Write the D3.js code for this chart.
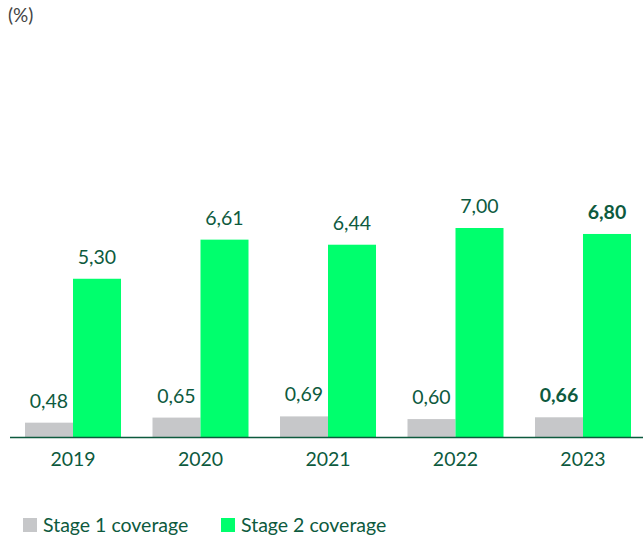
<!DOCTYPE html>
<html><head><meta charset="utf-8">
<script src="https://cdn.jsdelivr.net/npm/d3@7"></script>
<style>body{margin:0;background:#fff;}svg{display:block;font-family:Lato,sans-serif;}</style>
</head><body>
<svg id="c" width="643" height="538"></svg>
<script>
const years = ["2019","2020","2021","2022","2023"];
const stage1 = [0.48,0.65,0.69,0.60,0.66];
const stage2 = [5.30,6.61,6.44,7.00,6.80];
const labels1 = ["0,48","0,65","0,69","0,60","0,66"];
const labels2 = ["5,30","6,61","6,44","7,00","6,80"];
const seriesNames = ["Stage 1 coverage","Stage 2 coverage"];
const colors = ["#c6c7c9","#00ff6d"];
const textColor = "#0d5a3e";

const svg = d3.select("#c");
const base = 437;
const x = d3.scaleBand().domain(years).range([25, 631]).paddingInner(0.247).paddingOuter(0);
const xs = d3.scaleBand().domain([0,1]).range([0, x.bandwidth()]);
const y = d3.scaleLinear().domain([0,7]).range([base, 228]);

svg.append("text").attr("x",8).attr("y",22).attr("font-size",19).attr("fill","#444").text("(%)");

const g = svg.append("g");
years.forEach((yr,i)=>{
  const vals=[stage1[i],stage2[i]], labs=[labels1[i],labels2[i]];
  vals.forEach((v,j)=>{
    const bx = x(yr)+xs(j);
    g.append("rect").attr("x",bx).attr("y",y(v)).attr("width",xs.bandwidth()).attr("height",base-y(v)).attr("fill",colors[j]);
    g.append("text").attr("x",bx+xs.bandwidth()/2).attr("y",y(v)-15).attr("text-anchor","middle")
      .attr("font-size",19.5).attr("fill",textColor).attr("font-weight", i===4?700:400).text(labs[j]);
  });
});
const ax = svg.append("g").attr("transform",`translate(0,${base})`).call(d3.axisBottom(x).tickSize(0).tickPadding(15));
ax.select(".domain").remove();
svg.append("line").attr("x1",10).attr("x2",643).attr("y1",base+0.5).attr("y2",base+0.5).attr("stroke",textColor).attr("stroke-width",1.5);
ax.selectAll("text").attr("font-size",19.5).attr("fill",textColor).attr("font-family","Lato,sans-serif");

const lg = svg.append("g");
const lx=[23,221];
seriesNames.forEach((n,j)=>{
  lg.append("rect").attr("x",lx[j]).attr("y",518).attr("width",14).attr("height",14).attr("fill",colors[j]);
  lg.append("text").attr("x",lx[j]+20).attr("y",532).attr("font-size",19.5).attr("fill",textColor).text(n);
});
</script>
</body></html>
